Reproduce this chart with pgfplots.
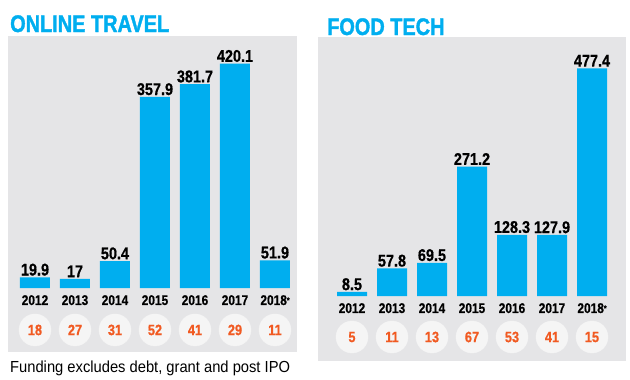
\documentclass[border=0pt]{standalone}
\usepackage{fontspec}
\setmainfont{Liberation Sans}
\newfontfamily\cond[FakeStretch=0.85,FakeBold=0.6]{Liberation Sans}
\newfontfamily\titlef[FakeStretch=0.83,FakeBold=1.5]{Liberation Sans}
\newfontfamily\foot[FakeStretch=0.92]{Liberation Sans}
\usepackage{pgfplots}
\pgfplotsset{compat=1.18}
\definecolor{barblue}{RGB}{0,174,239}
\definecolor{bggray}{RGB}{229,229,231}
\definecolor{circgray}{RGB}{245,245,245}
\definecolor{numorange}{RGB}{241,90,34}
\pgfplotsset{
  panel/.style={
    scale only axis, width=280pt, xmin=-0.5, xmax=6.5, ymin=0, clip=false,
    axis line style={draw=none}, ytick=\empty, xtick={0,...,6},
    xticklabels={2012,2013,2014,2015,2016,2017,{2018\raisebox{2pt}{\fontsize{8}{8}\selectfont*}}},
    major tick length=0pt,
    xticklabel style={font=\cond\bfseries\fontsize{14}{14}\selectfont, inner sep=0pt, yshift=-7pt},
  },
  bars/.style={ybar, bar width=30pt, bar shift=0pt, fill=barblue, draw=none,
    point meta=explicit symbolic, nodes near coords,
    nodes near coords style={font=\cond\bfseries\fontsize{17}{17}\selectfont, text=black, inner sep=1.5pt, anchor=south}},
  circs/.style={only marks, mark=*, mark size=16pt, color=circgray, mark options={fill=circgray, draw=circgray},
    point meta=explicit symbolic, nodes near coords,
    nodes near coords style={anchor=center, text=numorange, inner sep=0pt, font=\cond\bfseries\fontsize{15}{15}\selectfont}},
}
\begin{document}
\begin{tikzpicture}
\path[use as bounding box] (0pt,0pt) rectangle (630pt,-380pt);
\fill[bggray] (8pt,-36pt) rectangle (297pt,-352pt);
\fill[bggray] (318pt,-37pt) rectangle (626pt,-361pt);
\node[anchor=base west, inner sep=0pt, text=barblue] at (10pt,-32pt) {\titlef\bfseries\fontsize{24}{24}\selectfont ONLINE TRAVEL};
\node[anchor=base west, inner sep=0pt, text=barblue] at (327pt,-35pt) {\titlef\bfseries\fontsize{24}{24}\selectfont FOOD TECH};
\node[anchor=base west, inner sep=0pt, text=black] at (10pt,-372pt) {\foot\fontsize{16}{16}\selectfont Funding excludes debt, grant and post IPO};

\begin{axis}[panel, at={(15pt,-288pt)}, anchor=south west, height=252pt, ymax=472]
\addplot[bars] coordinates {(0,19.9) [19.9] (1,17) [17] (2,50.4) [50.4] (3,357.9) [357.9] (4,381.7) [381.7] (5,420.1) [420.1] (6,51.9) [51.9]};
\addplot[circs] coordinates {(0,-78.6) [18] (1,-78.6) [27] (2,-78.6) [31] (3,-78.6) [52] (4,-78.6) [41] (5,-78.6) [29] (6,-78.6) [11]};
\end{axis}

\begin{axis}[panel, at={(332pt,-296pt)}, anchor=south west, height=259pt, ymax=543]
\addplot[bars] coordinates {(0,8.5) [8.5] (1,57.8) [57.8] (2,69.5) [69.5] (3,271.2) [271.2] (4,128.3) [128.3] (5,127.9) [127.9] (6,477.4) [477.4]};
\addplot[circs] coordinates {(0,-86) [5] (1,-86) [11] (2,-86) [13] (3,-86) [67] (4,-86) [53] (5,-86) [41] (6,-86) [15]};
\end{axis}
\end{tikzpicture}
\end{document}
